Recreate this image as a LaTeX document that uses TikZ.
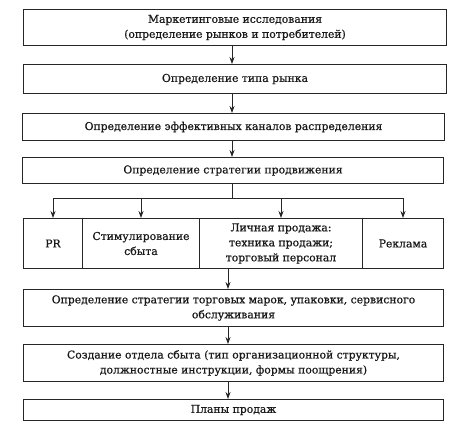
\documentclass[tikz,border=0pt]{standalone}
\usepackage{fontspec}
\setmainfont{DejaVu Serif}[FakeBold=0.7]
\usetikzlibrary{arrows.meta}
\begin{document}
\begin{tikzpicture}[x=1pt,y=-1pt,
  box/.style={draw=black!85,line width=1pt,anchor=north west,inner sep=0pt,align=center,
    font=\fontsize{10.8}{15}\selectfont,text=black!90},
  conn/.style={draw=black!85,line width=0.8pt,-{Stealth[length=7pt,width=5pt]}},
  line/.style={draw=black!85,line width=0.8pt}]
\useasboundingbox (0,0) rectangle (458,437);
\node[box,minimum width=423pt,minimum height=36pt] (b1) at (23,9) {Маркетинговые исследования\\(определение рынков и потребителей)};
\node[box,minimum width=423pt,minimum height=29pt] (b2) at (23,64) {Определение типа рынка};
\node[box,minimum width=422pt,minimum height=27pt] (b3) at (22,113) {Определение эффективных каналов распределения};
\node[box,minimum width=421pt,minimum height=26pt] (b4) at (22,157) {Определение стратегии продвижения};
\node[box,minimum width=59pt,minimum height=50pt] (pr) at (23,218) {PR};
\node[box,minimum width=117pt,minimum height=50pt] (st) at (82,218) {Стимулирование\\сбыта};
\node[box,minimum width=163pt,minimum height=50pt] (lp) at (199,218) {Личная продажа:\\техника продажи;\\торговый персонал};
\node[box,minimum width=81pt,minimum height=50pt] (rk) at (362,218) {Реклама};
\node[box,minimum width=420pt,minimum height=37pt] (b6) at (23,289) {Определение стратегии торговых марок, упаковки, сервисного\\обслуживания};
\node[box,minimum width=420pt,minimum height=37pt] (b7) at (23,344) {Создание отдела сбыта (тип организационной структуры,\\должностные инструкции, формы поощрения)};
\node[box,minimum width=420pt,minimum height=21pt] (b8) at (23,399) {Планы продаж};
\coordinate (ta) at (232,0);
\coordinate (ba) at (228,0);
\coordinate (fork) at (232,198);
\draw[conn] (b1.south -| ta) -- (b2.north -| ta);
\draw[conn] (b2.south -| ta) -- (b3.north -| ta);
\draw[conn] (b3.south -| ta) -- (b4.north -| ta);
\draw[line] (b4.south -| fork) -- (fork);
\draw[line] (fork -| pr.north) -- (fork -| rk.north);
\draw[conn] (fork -| pr.north) -- (pr.north);
\draw[conn] (fork -| st.north) -- (st.north);
\draw[conn] (fork -| lp.north) -- (lp.north);
\draw[conn] (fork -| rk.north) -- (rk.north);
\draw[conn] (lp.south -| ba) -- (b6.north -| ba);
\draw[conn] (b6.south -| ba) -- (b7.north -| ba);
\draw[conn] (b7.south -| ba) -- (b8.north -| ba);
\end{tikzpicture}
\end{document}
